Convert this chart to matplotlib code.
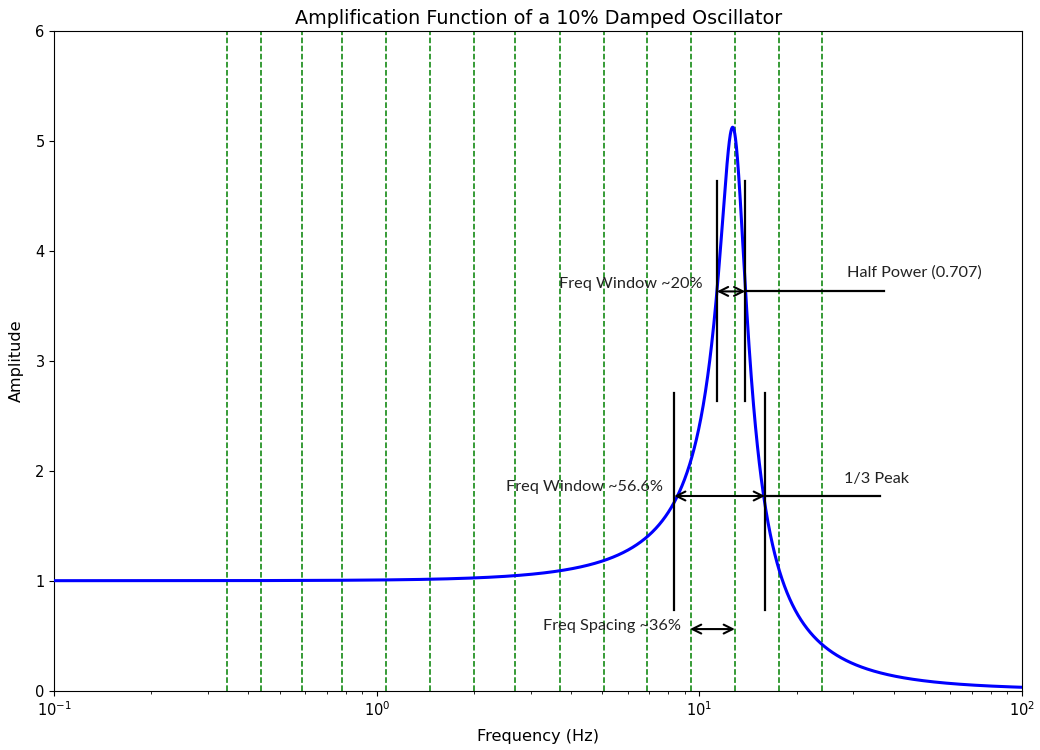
import numpy as np
import matplotlib
matplotlib.use("Agg")
import matplotlib.pyplot as plt

# Oscillator parameters
damping_ratio = 0.10
natural_freq_hz = 12.8

# Band centre frequencies marked with dashed green lines (Hz)
band_freqs_hz = [0.342, 0.436, 0.586, 0.779, 1.07, 1.46, 2.00, 2.69,
                 3.69, 5.05, 6.86, 9.41, 12.88, 17.6, 24.0]

# Annotation values
half_power_level = 3.63
half_power_edges_hz = [11.33, 13.87]
third_peak_level = 1.77
third_peak_center = 1.72
third_peak_edges_hz = [8.35, 15.96]
spacing_edges_hz = [9.35, 12.88]
spacing_level = 0.56

# Amplification (transmissibility) of a single-degree-of-freedom oscillator
freq = np.logspace(-1, 2, 3000)
r = freq / natural_freq_hz
amp = np.sqrt(1 + (2 * damping_ratio * r) ** 2) / np.sqrt(
    (1 - r ** 2) ** 2 + (2 * damping_ratio * r) ** 2)

fig = plt.figure(figsize=(10.4, 7.5), dpi=100)
ax = fig.add_axes([0.0522, 0.0791, 0.9305, 0.8799])

for f in band_freqs_hz:
    ax.axvline(f, color="green", linestyle="--", linewidth=1.1, zorder=1)

ax.plot(freq, amp, color="blue", linewidth=2.2, zorder=3)

ax.set_xscale("log")
ax.set_xlim(0.1, 100)
ax.set_ylim(0, 6)
ax.set_title("Amplification Function of a 10% Damped Oscillator",
             fontsize=13.8, pad=5)
ax.set_xlabel("Frequency (Hz)", fontsize=11.6, labelpad=7)
ax.set_ylabel("Amplitude", fontsize=11.6, labelpad=8)
ax.tick_params(labelsize=10.5)

line_kw = dict(color="black", linewidth=1.6, zorder=4)
arrow_kw = dict(arrowstyle="<->", color="black", lw=1.5,
                shrinkA=0, shrinkB=0, mutation_scale=16)
text_kw = dict(fontsize=11.7, family="Lato", color="#222222", zorder=5)

# Half-power window
for f in half_power_edges_hz:
    ax.plot([f, f], [half_power_level - 1, half_power_level + 1], **line_kw)
ax.annotate("", xy=(half_power_edges_hz[0], half_power_level),
            xytext=(half_power_edges_hz[1], half_power_level),
            arrowprops=arrow_kw, zorder=5)
ax.plot([half_power_edges_hz[1], 37.4], [half_power_level] * 2, **line_kw)
ax.text(10.25, 3.70, "Freq Window ~20%", ha="right", va="center", **text_kw)
ax.text(28.7, 3.80, "Half Power (0.707)", ha="left", va="center", **text_kw)

# One-third peak window
for f in third_peak_edges_hz:
    ax.plot([f, f], [third_peak_center - 0.99, third_peak_center + 0.99], **line_kw)
ax.annotate("", xy=(third_peak_edges_hz[0], third_peak_level),
            xytext=(third_peak_edges_hz[1], third_peak_level),
            arrowprops=arrow_kw, zorder=5)
ax.plot([third_peak_edges_hz[1], 36.3], [third_peak_level] * 2, **line_kw)
ax.text(7.72, 1.85, "Freq Window ~56.6%", ha="right", va="center", **text_kw)
ax.text(28.1, 1.925, "1/3 Peak", ha="left", va="center", **text_kw)

# Band spacing
ax.annotate("", xy=(spacing_edges_hz[0], spacing_level),
            xytext=(spacing_edges_hz[1], spacing_level),
            arrowprops=arrow_kw, zorder=5)
ax.text(8.74, 0.588, "Freq Spacing ~36%", ha="right", va="center", **text_kw)

fig.savefig("out.png", dpi=100)
